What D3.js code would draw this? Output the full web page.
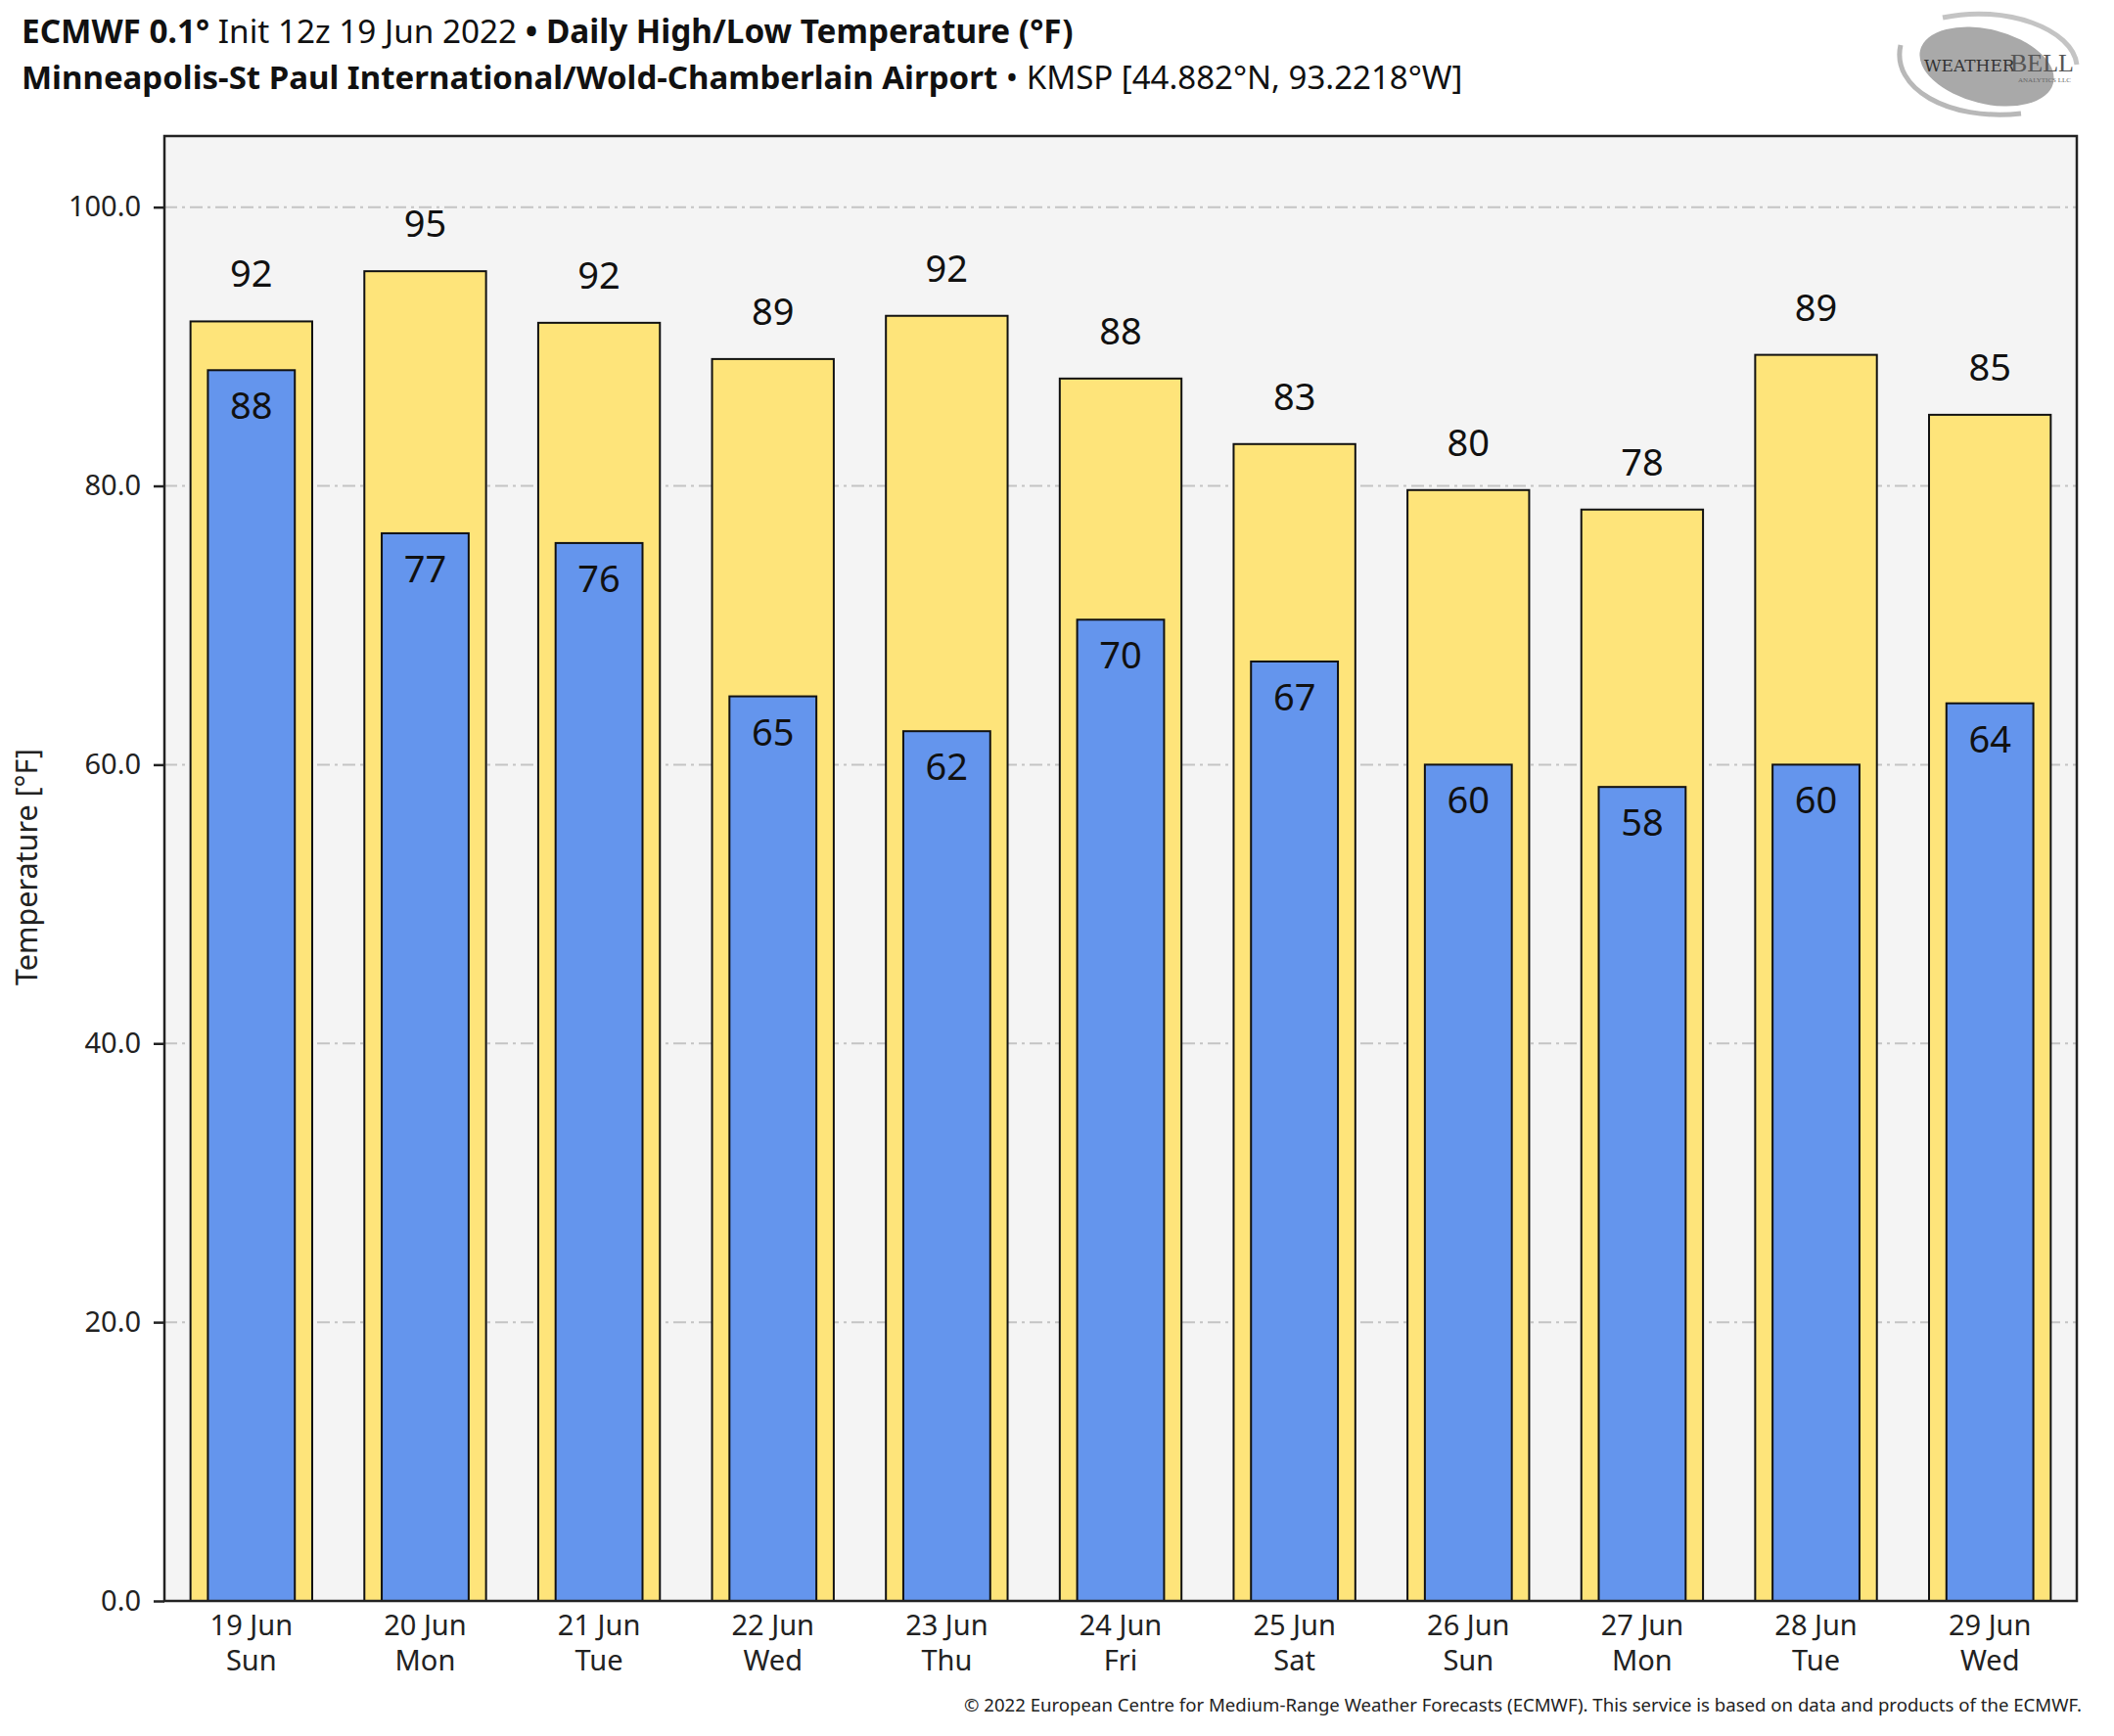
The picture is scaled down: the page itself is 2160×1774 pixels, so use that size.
<!DOCTYPE html>
<html>
<head>
<meta charset="utf-8">
<script src="https://cdn.jsdelivr.net/npm/d3@7"></script>
<style>
  html, body { margin: 0; padding: 0; background: #fff; }
  svg { display: block; font-family: "Noto Sans", "Open Sans", sans-serif; }
</style>
</head>
<body>
<div id="chart"></div>
<script>
// data
const days = ["19 Jun", "20 Jun", "21 Jun", "22 Jun", "23 Jun", "24 Jun", "25 Jun", "26 Jun", "27 Jun", "28 Jun", "29 Jun"];
const weekdays = ["Sun", "Mon", "Tue", "Wed", "Thu", "Fri", "Sat", "Sun", "Mon", "Tue", "Wed"];
const highs = [91.8, 95.4, 91.7, 89.1, 92.2, 87.7, 83.0, 79.7, 78.3, 89.4, 85.1];
const lows = [88.3, 76.6, 75.9, 64.9, 62.4, 70.4, 67.4, 60.0, 58.4, 60.0, 64.4];
const yTicks = [0, 20, 40, 60, 80, 100];

// svg container
const svgWidth = 2160, svgHeight = 1774;
const plot = { left: 168, right: 2122, top: 139, bottom: 1636 };

const svg = d3.select("#chart").append("svg")
  .attr("width", svgWidth)
  .attr("height", svgHeight);

// scales
const xScale = d3.scaleBand()
  .domain(days)
  .range([plot.left, plot.right])
  .padding(0);

const yScale = d3.scaleLinear()
  .domain([0, 105.1])
  .range([plot.bottom, plot.top]);

// plot background
svg.append("rect")
  .attr("x", plot.left)
  .attr("y", plot.top)
  .attr("width", plot.right - plot.left)
  .attr("height", plot.bottom - plot.top)
  .attr("fill", "#f4f4f4");

// dash-dot grid lines
svg.append("g")
  .selectAll("line")
  .data(yTicks.filter(d => d > 0))
  .enter()
  .append("line")
  .attr("x1", plot.left)
  .attr("x2", plot.right)
  .attr("y1", d => yScale(d))
  .attr("y2", d => yScale(d))
  .attr("stroke", "#c4c4c4")
  .attr("stroke-width", 2)
  .attr("stroke-dasharray", "13,5,3,5");

const bw = xScale.bandwidth();

// high (yellow) bars
svg.append("g")
  .selectAll("rect")
  .data(highs)
  .enter()
  .append("rect")
  .attr("x", (d, i) => xScale(days[i]) + bw * 0.15)
  .attr("y", d => yScale(d))
  .attr("width", bw * 0.7)
  .attr("height", d => yScale(0) - yScale(d))
  .attr("fill", "#fee47a")
  .attr("stroke", "#111")
  .attr("stroke-width", 2);

// low (blue) bars
svg.append("g")
  .selectAll("rect")
  .data(lows)
  .enter()
  .append("rect")
  .attr("x", (d, i) => xScale(days[i]) + bw * 0.25)
  .attr("y", d => yScale(d))
  .attr("width", bw * 0.5)
  .attr("height", d => yScale(0) - yScale(d))
  .attr("fill", "#6495ed")
  .attr("stroke", "#111")
  .attr("stroke-width", 2);

// value labels
svg.append("g")
  .selectAll("text")
  .data(highs)
  .enter()
  .append("text")
  .attr("x", (d, i) => xScale(days[i]) + bw / 2)
  .attr("y", d => yScale(d) - 35)
  .attr("text-anchor", "middle")
  .attr("font-size", 38)
  .attr("fill", "#111")
  .text(d => Math.round(d));

svg.append("g")
  .selectAll("text")
  .data(lows)
  .enter()
  .append("text")
  .attr("x", (d, i) => xScale(days[i]) + bw / 2)
  .attr("y", d => yScale(d) + 50)
  .attr("text-anchor", "middle")
  .attr("font-size", 38)
  .attr("fill", "#111")
  .text(d => Math.round(d));

// frame
svg.append("rect")
  .attr("x", plot.left)
  .attr("y", plot.top)
  .attr("width", plot.right - plot.left)
  .attr("height", plot.bottom - plot.top)
  .attr("fill", "none")
  .attr("stroke", "#222")
  .attr("stroke-width", 2.5);

// y axis
const yAxis = d3.axisLeft(yScale)
  .tickValues(yTicks)
  .tickSize(11)
  .tickPadding(13)
  .tickFormat(d3.format(".1f"));

svg.append("g")
  .attr("transform", `translate(${plot.left}, 0)`)
  .call(yAxis)
  .call(g => g.select(".domain").remove())
  .call(g => g.selectAll(".tick line").attr("stroke", "#222").attr("stroke-width", 2.5))
  .call(g => g.selectAll(".tick text")
    .attr("font-family", "'Noto Sans', sans-serif")
    .attr("font-size", 29)
    .attr("fill", "#222"));

// x axis, two-line labels
const xAxis = d3.axisBottom(xScale).tickSize(0).tickFormat("");
const xg = svg.append("g")
  .attr("transform", `translate(0, ${plot.bottom})`)
  .call(xAxis);
xg.select(".domain").remove();
xg.selectAll(".tick").each(function(d, i) {
  const t = d3.select(this).append("text")
    .attr("text-anchor", "middle")
    .attr("font-family", "'Noto Sans', sans-serif")
    .attr("font-size", 29)
    .attr("fill", "#222");
  t.append("tspan").attr("x", 0).attr("y", 35).text(d);
  t.append("tspan").attr("x", 0).attr("y", 71).text(weekdays[i]);
});

// y axis title
svg.append("text")
  .attr("transform", "translate(38, 886) rotate(-90)")
  .attr("text-anchor", "middle")
  .attr("font-size", 30.5)
  .attr("fill", "#222")
  .text("Temperature [°F]");

// titles
const t1 = svg.append("text")
  .attr("x", 22)
  .attr("y", 44)
  .attr("font-size", 33.3)
  .attr("fill", "#111");
t1.append("tspan").attr("font-weight", "bold").text("ECMWF 0.1°");
t1.append("tspan").text(" Init 12z 19 Jun 2022 ");
t1.append("tspan").attr("font-weight", "bold").text("• Daily High/Low Temperature (°F)");

const t2 = svg.append("text")
  .attr("x", 22)
  .attr("y", 91)
  .attr("font-size", 33)
  .attr("fill", "#111");
t2.append("tspan").attr("font-weight", "bold").text("Minneapolis-St Paul International/Wold-Chamberlain Airport");
t2.append("tspan").text(" • KMSP [44.882°N, 93.2218°W]");

// copyright
svg.append("text")
  .attr("x", 2127)
  .attr("y", 1749)
  .attr("text-anchor", "end")
  .attr("font-size", 18.6)
  .attr("fill", "#222")
  .text("© 2022 European Centre for Medium-Range Weather Forecasts (ECMWF). This service is based on data and products of the ECMWF.");

// logo
const logo = svg.append("g").attr("transform", "translate(2030, 68)");
logo.append("ellipse")
  .attr("rx", 70).attr("ry", 38)
  .attr("transform", "rotate(14)")
  .attr("fill", "#a9a9a9");
logo.append("path")
  .attr("d", "M-88,-22 C-98,22 -40,56 35,48")
  .attr("fill", "none").attr("stroke", "#b8b8b8").attr("stroke-width", 5);
logo.append("path")
  .attr("d", "M-45,-50 C20,-64 88,-38 92,-2")
  .attr("fill", "none").attr("stroke", "#c4c4c4").attr("stroke-width", 5);
logo.append("text")
  .attr("x", -64).attr("y", 5)
  .attr("font-family", "'DejaVu Serif', 'Liberation Serif', serif")
  .attr("font-size", 17)
  .attr("fill", "#333")
  .text("WEATHER");
logo.append("text")
  .attr("x", 24).attr("y", 5)
  .attr("font-family", "'Liberation Serif', serif")
  .attr("font-size", 26)
  .attr("fill", "#555")
  .text("BELL");
logo.append("text")
  .attr("x", 32).attr("y", 16)
  .attr("font-family", "'Liberation Serif', serif")
  .attr("font-size", 7)
  .attr("fill", "#666")
  .text("ANALYTICS LLC");
</script>
</body>
</html>
